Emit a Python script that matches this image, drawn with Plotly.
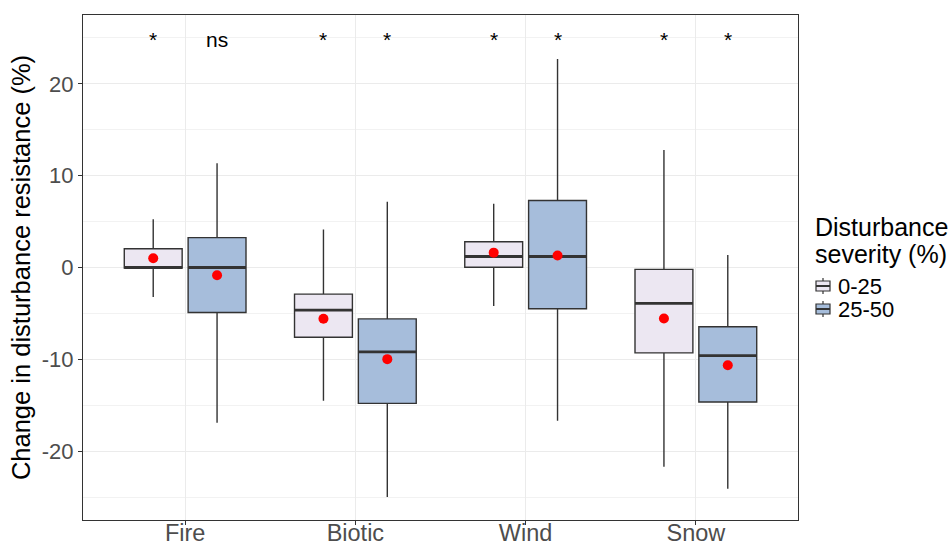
import plotly.graph_objects as go

# Disturbance agents on the x axis
categories = ["Fire", "Biotic", "Wind", "Snow"]
severity_groups = ["0-25", "25-50"]

# Box statistics per severity class (one value per disturbance agent)
lower_whisker = {
    "0-25": [-3.2, -14.5, -4.2, -21.7],
    "25-50": [-16.9, -25.0, -16.7, -24.1],
}
q1 = {
    "0-25": [-0.05, -7.6, 0.03, -9.3],
    "25-50": [-4.9, -14.8, -4.5, -14.65],
}
median = {
    "0-25": [0.0, -4.65, 1.2, -3.9],
    "25-50": [0.0, -9.2, 1.2, -9.6],
}
q3 = {
    "0-25": [2.05, -2.9, 2.8, -0.2],
    "25-50": [3.25, -5.6, 7.3, -6.45],
}
upper_whisker = {
    "0-25": [5.25, 4.15, 6.95, 12.8],
    "25-50": [11.35, 7.15, 22.7, 1.35],
}
mean = {
    "0-25": [1.0, -5.58, 1.62, -5.56],
    "25-50": [-0.84, -9.98, 1.3, -10.65],
}

# Significance labels, in order: (Fire 0-25, Fire 25-50, Biotic 0-25, ...)
signif_labels = ["*", "ns", "*", "*", "*", "*", "*", "*"]
label_y = 25

y_ticks = [-20, -10, 0, 10, 20]
y_minor = [-25, -15, -5, 5, 15, 25]

FONT = "Liberation Sans, Arial, sans-serif"
fill_colors = {"0-25": "#ECE7F2", "25-50": "#A6BDDB"}
outline = "#333333"
dodge = {"0-25": -0.1875, "25-50": 0.1875}
box_width = 0.34

# Figure geometry (pixels)
W, H = 952, 547
ML, MR, MT, MB = 83, 154, 15, 27
PW, PH = W - ML - MR, H - MT - MB


def px_x(px):
    return (px - ML) / PW


def px_y(py):
    return (H - MB - py) / PH


fig = go.Figure()

for g in severity_groups:
    xs = [i + dodge[g] for i in range(len(categories))]
    fig.add_trace(go.Box(
        x=xs,
        q1=q1[g],
        median=median[g],
        q3=q3[g],
        lowerfence=lower_whisker[g],
        upperfence=upper_whisker[g],
        name=g,
        width=box_width,
        whiskerwidth=0,
        fillcolor=fill_colors[g],
        line=dict(color=outline, width=1.4),
        boxpoints=False,
        hoverinfo="skip",
        showlegend=False,
    ))

# Thicker median bars
for g in severity_groups:
    mx, my = [], []
    for i, m in enumerate(median[g]):
        c = i + dodge[g]
        mx += [c - box_width / 2, c + box_width / 2, None]
        my += [m, m, None]
    fig.add_trace(go.Scatter(
        x=mx, y=my, mode="lines",
        line=dict(color=outline, width=2.8),
        showlegend=False, hoverinfo="skip",
    ))

# Group means as red points
for g in severity_groups:
    fig.add_trace(go.Scatter(
        x=[i + dodge[g] for i in range(len(categories))],
        y=mean[g],
        mode="markers",
        marker=dict(color="#FF0000", size=10),
        showlegend=False, hoverinfo="skip",
    ))

# Significance labels above each box
label_x = [i + dodge[g] for i in range(len(categories)) for g in severity_groups]
for x, t in zip(label_x, signif_labels):
    fig.add_annotation(
        x=x, y=label_y, text=t, showarrow=False,
        xanchor="center", yanchor="middle", yshift=-2,
        font=dict(family=FONT, size=21, color="#000000"),
    )

# Reference line at zero change
fig.add_hline(y=0, line=dict(color="#333333", width=1.2, dash="dot"), layer="below")

# Legend: two-line title and one key per severity class
for text, cy in [("Disturbance", 227), ("severity (%)", 254)]:
    fig.add_annotation(
        x=px_x(813), y=px_y(cy), xref="paper", yref="paper",
        text=text, showarrow=False, xanchor="left", yanchor="middle",
        font=dict(family=FONT, size=25, color="#000000"),
    )
for g, cy in zip(severity_groups, [286, 309]):
    gx0, gx1 = 816, 830
    gxc = (gx0 + gx1) / 2
    fig.add_shape(type="line", xref="paper", yref="paper",
                  x0=px_x(gxc), x1=px_x(gxc), y0=px_y(cy - 8), y1=px_y(cy + 8),
                  line=dict(color=outline, width=1.2))
    fig.add_shape(type="rect", xref="paper", yref="paper",
                  x0=px_x(gx0), x1=px_x(gx1), y0=px_y(cy - 5), y1=px_y(cy + 5),
                  fillcolor=fill_colors[g], line=dict(color=outline, width=1.2))
    fig.add_shape(type="line", xref="paper", yref="paper",
                  x0=px_x(gx0), x1=px_x(gx1), y0=px_y(cy), y1=px_y(cy),
                  line=dict(color=outline, width=2))
    fig.add_annotation(
        x=px_x(836), y=px_y(cy), xref="paper", yref="paper",
        text=g, showarrow=False, xanchor="left", yanchor="middle",
        font=dict(family=FONT, size=22, color="#000000"),
    )

fig.update_layout(
    width=W, height=H,
    margin=dict(l=ML, r=MR, t=MT, b=MB, autoexpand=False),
    paper_bgcolor="white",
    plot_bgcolor="white",
    boxmode="overlay",
    font=dict(family=FONT, size=22, color="#4D4D4D"),
    showlegend=False,
)

fig.update_xaxes(
    range=[-0.6, 3.6],
    tickmode="array",
    tickvals=list(range(len(categories))),
    ticktext=categories,
    showgrid=True, gridcolor="#EBEBEB", gridwidth=1.2,
    zeroline=False, automargin=False,
    showline=True, linecolor=outline, linewidth=1, mirror=True,
    ticks="outside", ticklen=4, tickcolor=outline, tickwidth=1,
    ticklabelstandoff=-12,
    tickfont=dict(family=FONT, size=23.5, color="#4D4D4D"),
)

fig.update_yaxes(
    range=[-27.5, 27.5],
    tickmode="array",
    tickvals=y_ticks,
    ticktext=[str(v) for v in y_ticks],
    showgrid=True, gridcolor="#EBEBEB", gridwidth=1.2,
    minor=dict(tickvals=y_minor, showgrid=True,
               gridcolor="#F2F2F2", gridwidth=0.8),
    zeroline=False, automargin=False,
    showline=True, linecolor=outline, linewidth=1, mirror=True,
    ticks="outside", ticklen=4, tickcolor=outline, tickwidth=1,
    tickfont=dict(family=FONT, size=22, color="#4D4D4D"),
    title=dict(text="Change in disturbance resistance (%)",
               font=dict(family=FONT, size=25.5, color="#000000"), standoff=3),
)

fig.write_html("out.html")
